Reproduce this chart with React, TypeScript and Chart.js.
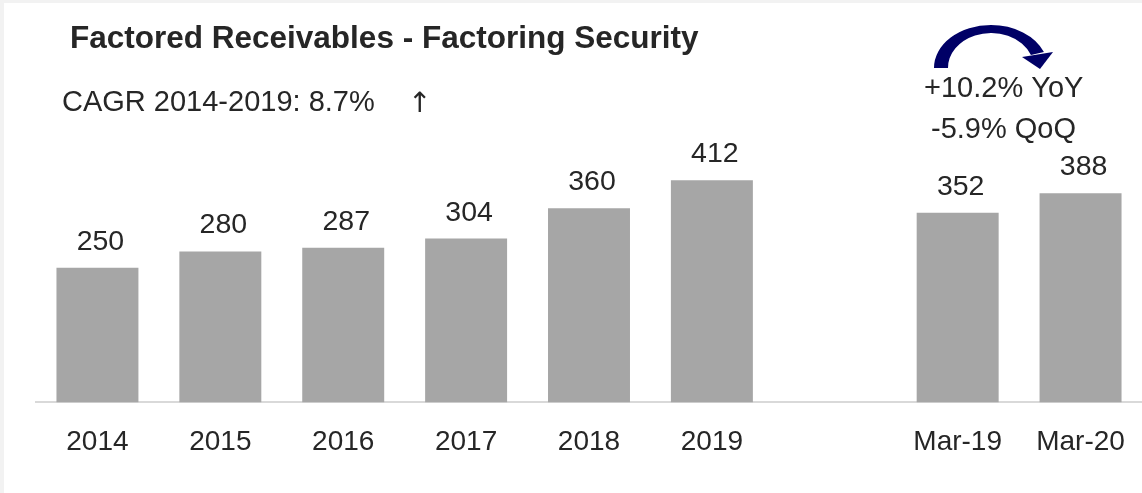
import React, { useEffect, useRef } from "react";
import { Chart, registerables } from "chart.js";

Chart.register(...registerables);

const categories = ["2014", "2015", "2016", "2017", "2018", "2019", "", "Mar-19", "Mar-20"];
const receivables = [250, 280, 287, 304, 360, 412, null, 352, 388];
const titleText = "Factored Receivables - Factoring Security";
const cagrText = "CAGR 2014-2019: 8.7%";
const yoyText = "+10.2% YoY";
const qoqText = "-5.9% QoQ";

const FONT = "'Liberation Sans', Arial, sans-serif";
const TEXT = "#262626";

const decorPlugin = {
  id: "decor",
  beforeDraw(chart: any) {
    const { ctx, width, height } = chart;
    ctx.save();
    ctx.fillStyle = "#ffffff";
    ctx.fillRect(0, 0, width, height);
    ctx.fillStyle = "#f2f2f2";
    ctx.fillRect(0, 0, width, 3);
    ctx.fillRect(0, 0, 4, height);
    ctx.restore();
  },
  afterDraw(chart: any) {
    const { ctx } = chart;
    ctx.save();
    ctx.fillStyle = TEXT;
    ctx.textBaseline = "alphabetic";
    ctx.textAlign = "left";
    ctx.font = `bold 31.5px ${FONT}`;
    ctx.fillText(titleText, 70, 48);
    ctx.font = `29px ${FONT}`;
    ctx.fillText(cagrText, 62, 111);
    ctx.font = `28px 'DejaVu Sans', ${FONT}`;
    ctx.fillText("\u2191", 408, 112);
    ctx.font = `29px ${FONT}`;
    ctx.fillText(yoyText, 924, 97);
    ctx.fillText(qoqText, 931, 138);

    // curved arrow
    const cx = 991, cy = 68;
    const a = 0.38;
    ctx.fillStyle = "#000066";
    ctx.beginPath();
    ctx.ellipse(cx, cy, 57, 43, 0, Math.PI, 2 * Math.PI - a, false);
    ctx.ellipse(cx, cy, 43, 35, 0, 2 * Math.PI - a, Math.PI, true);
    ctx.closePath();
    ctx.fill();
    ctx.beginPath();
    ctx.moveTo(1022, 57);
    ctx.lineTo(1053, 52);
    ctx.lineTo(1040, 69);
    ctx.closePath();
    ctx.fill();
    ctx.restore();
  },
  afterDatasetsDraw(chart: any) {
    const { ctx } = chart;
    const meta = chart.getDatasetMeta(0);
    ctx.save();
    ctx.fillStyle = TEXT;
    ctx.font = `28.5px ${FONT}`;
    ctx.textAlign = "center";
    ctx.textBaseline = "alphabetic";
    meta.data.forEach((bar: any, i: number) => {
      const v = receivables[i];
      if (v == null) return;
      ctx.fillText(String(v), bar.x + 3, bar.y - 18);
    });
    ctx.restore();
  },
};

export default function App() {
  const ref = useRef<HTMLCanvasElement>(null);
  useEffect(() => {
    if (!ref.current) return;
    const chart = new Chart(ref.current, {
      type: "bar",
      data: {
        labels: categories,
        datasets: [
          {
            data: receivables as any,
            backgroundColor: "#a6a6a6",
            borderWidth: 0,
            categoryPercentage: 1,
            barPercentage: 0.667,
          },
        ],
      },
      options: {
        animation: false,
        responsive: true,
        maintainAspectRatio: false,
        layout: { padding: { left: 36, right: 0, top: 79, bottom: 11 } },
        plugins: { legend: { display: false }, tooltip: { enabled: false }, title: { display: false } },
        scales: {
          x: {
            grid: { display: false, drawTicks: false },
            border: { display: true, color: "#d9d9d9", width: 2 },
            ticks: { color: TEXT, font: { family: FONT, size: 28 }, padding: 23, maxRotation: 0, autoSkip: false },
            afterFit(scale: any) {
              scale.paddingLeft = 0;
              scale.paddingRight = 0;
            },
          },
          y: { display: false, min: 0, max: 600 },
        },
      },
      plugins: [decorPlugin],
    });
    return () => chart.destroy();
  }, []);
  return (
    <div style={{ position: "fixed", left: 0, top: 0, width: 1142, height: 493, background: "#fff" }}>
      <canvas ref={ref} />
    </div>
  );
}
